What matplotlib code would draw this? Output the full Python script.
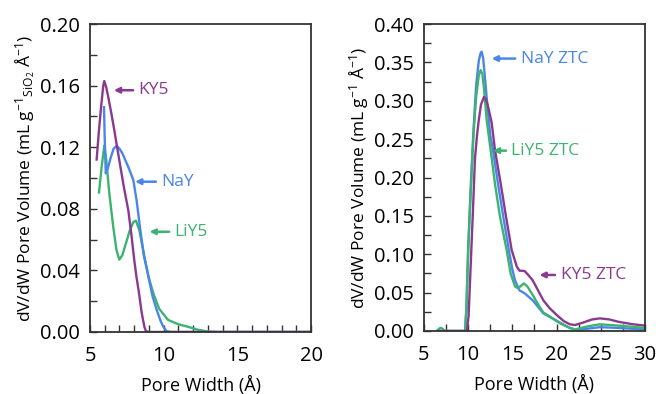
import matplotlib
matplotlib.use("Agg")
import matplotlib.pyplot as plt
from matplotlib.ticker import MultipleLocator

plt.rcParams['font.family'] = ['Open Sans', 'DejaVu Sans']
plt.rcParams['mathtext.fontset'] = 'custom'
plt.rcParams['mathtext.rm'] = 'Open Sans'
plt.rcParams['mathtext.it'] = 'Open Sans'

PURPLE = '#8a3a8e'
BLUE = '#4a86e8'
GREEN = '#3cb371'

# ---- zeolites (left panel) ----
ky5_x = [5.45, 5.6, 5.75, 5.9, 5.97, 6.1, 6.25, 6.43, 6.65, 6.98, 7.3, 7.6, 7.8, 8.0, 8.15,
         8.33, 8.5, 8.6, 8.7, 8.8, 9.0, 20.0]
ky5_y = [0.112, 0.130, 0.146, 0.160, 0.163, 0.159, 0.152, 0.143, 0.131, 0.112, 0.094, 0.079,
         0.064, 0.047, 0.036, 0.025, 0.013, 0.0078, 0.003, 0.0005, 0.0, 0.0]

nay_x = [5.95, 6.0, 6.07, 6.2, 6.4, 6.6, 6.81, 7.0, 7.2, 7.38, 7.65, 7.94, 8.17, 8.39, 8.65,
         8.96, 9.25, 9.53, 9.8, 10.0, 10.2, 10.5, 20.0]
nay_y = [0.146, 0.125, 0.103, 0.106, 0.113, 0.119, 0.121, 0.119, 0.116, 0.112, 0.106, 0.0987,
         0.085, 0.068, 0.050, 0.036, 0.023, 0.0143, 0.007, 0.003, 0.0005, 0.0, 0.0]

liy5_x = [5.61, 5.8, 5.97, 6.1, 6.31, 6.58, 6.8, 6.99, 7.2, 7.45, 7.7, 7.95, 8.12, 8.35, 8.73,
          9.0, 9.3, 9.7, 10.3, 11.0, 11.6, 12.3, 13.0, 13.5, 20.0]
liy5_y = [0.0906, 0.108, 0.121, 0.112, 0.090, 0.068, 0.053, 0.047, 0.050, 0.058, 0.066, 0.0715,
          0.0723, 0.066, 0.047, 0.035, 0.025, 0.015, 0.0078, 0.005, 0.0035, 0.0015, 0.0003, 0.0, 0.0]

# ---- ZTCs (right panel) ----
nayz_x = [6.5, 9.65, 9.8, 10.0, 10.3, 10.6, 10.9, 11.2, 11.4, 11.53, 11.7, 11.9, 12.2, 12.5,
          12.8, 13.4, 13.97, 14.6, 15.0, 15.3, 15.8, 16.4, 17.3, 18.5, 19.9, 21.0, 21.5, 22.3,
          23.5, 24.9, 27.0, 30.0]
nayz_y = [0.0, 0.0, 0.030, 0.108, 0.190, 0.262, 0.320, 0.352, 0.362, 0.364, 0.355, 0.330,
          0.290, 0.255, 0.236, 0.190, 0.149, 0.1055, 0.080, 0.066, 0.053, 0.049, 0.040, 0.023,
          0.014, 0.007, 0.004, 0.001, 0.003, 0.005, 0.004, 0.002]

liy5z_x = [6.5, 6.7, 6.9, 7.1, 7.3, 9.65, 9.8, 10.0, 10.3, 10.6, 10.9, 11.2, 11.41, 11.6, 11.8,
           12.09, 12.54, 13.03, 13.6, 14.35, 14.8, 15.3, 15.6, 15.9, 16.3, 16.7, 17.3, 18.0,
           18.5, 19.1, 19.6, 20.4, 21.5, 22.1, 23.5, 24.9, 27.0, 30.0]
liy5z_y = [0.0, 0.003, 0.004, 0.003, 0.0, 0.0, 0.030, 0.105, 0.185, 0.255, 0.305, 0.333, 0.340,
           0.335, 0.315, 0.275, 0.236, 0.192, 0.149, 0.1055, 0.075, 0.058, 0.056, 0.058, 0.062,
           0.058, 0.047, 0.033, 0.024, 0.020, 0.016, 0.010, 0.004, 0.002, 0.006, 0.0087, 0.007,
           0.004]

ky5z_x = [6.5, 9.85, 10.05, 10.3, 10.55, 10.77, 11.0, 11.2, 11.45, 11.79, 12.0, 12.2, 12.65,
          13.03, 13.68, 14.28, 14.92, 15.5, 15.8, 16.1, 16.4, 16.8, 17.3, 17.9, 18.5, 19.2,
          20.0, 20.8, 21.5, 22.1, 23.0, 24.0, 24.9, 26.0, 27.0, 28.5, 30.0]
ky5z_y = [0.0, 0.0, 0.020, 0.090, 0.160, 0.225, 0.255, 0.275, 0.295, 0.305, 0.302, 0.295,
          0.272, 0.236, 0.192, 0.149, 0.1055, 0.084, 0.0786, 0.0785, 0.078, 0.073, 0.066,
          0.053, 0.040, 0.030, 0.021, 0.013, 0.0087, 0.0078, 0.011, 0.015, 0.0165, 0.015,
          0.012, 0.009, 0.007]

ylab_l = r'dV/dW Pore Volume (mL g$^{-1}{}_{\mathrm{SiO_2}}$ Å$^{-1}$)'
ylab_r = r'dV/dW Pore Volume (mL g$^{-1}$ Å$^{-1}$)'

fig = plt.figure(figsize=(6.56, 3.94), dpi=100)
ax1 = fig.add_axes([0.1372, 0.1574, 0.3369, 0.7816])
ax2 = fig.add_axes([0.6463, 0.1599, 0.3369, 0.7791])

FS = 12.5
TICK_FS = 14.5
LW = 1.7


def style(ax, xlim, ylim, xmaj, xmin, ymaj, ymin):
    ax.set_xlim(*xlim)
    ax.set_ylim(*ylim)
    ax.xaxis.set_major_locator(MultipleLocator(xmaj))
    ax.xaxis.set_minor_locator(MultipleLocator(xmin))
    ax.yaxis.set_major_locator(MultipleLocator(ymaj))
    ax.yaxis.set_minor_locator(MultipleLocator(ymin))
    ax.yaxis.set_major_formatter('{x:.2f}')
    ax.tick_params(which='both', direction='in', length=5, width=1, color='#333333',
                   labelsize=TICK_FS)
    ax.tick_params(axis='x', pad=10)
    ax.tick_params(axis='y', pad=7)
    for s in ax.spines.values():
        s.set_color('#333333')
        s.set_linewidth(1.3)
    ax.set_xlabel('Pore Width (Å)', fontsize=13, labelpad=7)


ax1.plot(liy5_x, liy5_y, color=GREEN, lw=LW)
ax1.plot(nay_x, nay_y, color=BLUE, lw=LW)
ax1.plot(ky5_x, ky5_y, color=PURPLE, lw=LW)
style(ax1, (5, 20), (0, 0.2), 5, 1, 0.04, 0.02)
ax1.set_ylabel(ylab_l, fontsize=FS, labelpad=2)

arrow = dict(arrowstyle='-|>', lw=1.8, mutation_scale=8)
ax1.annotate('KY5', xy=(6.43, 0.157), xytext=(8.3, 0.157), va='center', ha='left',
             fontsize=FS, color=PURPLE, arrowprops=dict(arrow, color=PURPLE))
ax1.annotate('NaY', xy=(7.87, 0.0976), xytext=(9.85, 0.0976), va='center', ha='left',
             fontsize=FS, color=BLUE, arrowprops=dict(arrow, color=BLUE))
ax1.annotate('LiY5', xy=(8.85, 0.0651), xytext=(10.75, 0.0651), va='center', ha='left',
             fontsize=FS, color=GREEN, arrowprops=dict(arrow, color=GREEN))

ax2.plot(nayz_x, nayz_y, color=BLUE, lw=LW)
ax2.plot(liy5z_x, liy5z_y, color=GREEN, lw=LW)
ax2.plot(ky5z_x, ky5z_y, color=PURPLE, lw=LW)
style(ax2, (5, 30), (0, 0.4), 5, 2.5, 0.05, 0.025)
ax2.set_ylabel(ylab_r, fontsize=FS, labelpad=2)

ax2.annotate('NaY ZTC', xy=(12.35, 0.355), xytext=(15.95, 0.355), va='center', ha='left',
             fontsize=FS, color=BLUE, arrowprops=dict(arrow, color=BLUE))
ax2.annotate('LiY5 ZTC', xy=(12.47, 0.235), xytext=(14.9, 0.235), va='center', ha='left',
             fontsize=FS, color=GREEN, arrowprops=dict(arrow, color=GREEN))
ax2.annotate('KY5 ZTC', xy=(17.75, 0.073), xytext=(20.45, 0.073), va='center', ha='left',
             fontsize=FS, color=PURPLE, arrowprops=dict(arrow, color=PURPLE))

fig.savefig('out.png', dpi=100)
